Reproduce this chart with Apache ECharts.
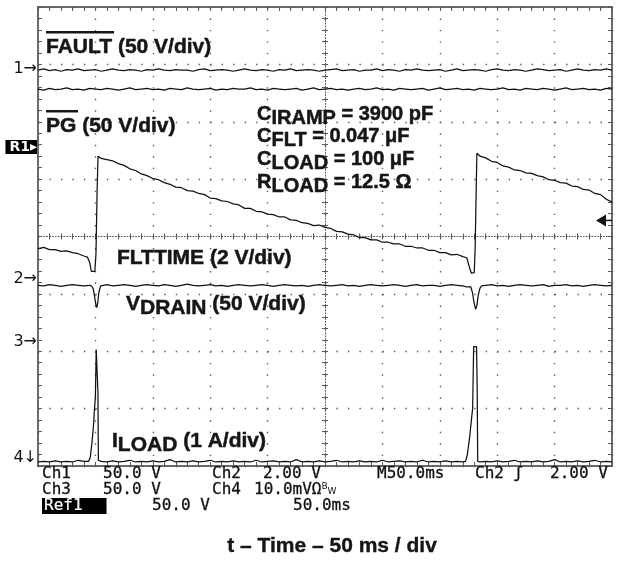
<!DOCTYPE html>
<html><head><meta charset="utf-8">
<script src="https://cdn.jsdelivr.net/npm/echarts@6/dist/echarts.min.js"></script>
<style>html,body{margin:0;padding:0;background:#fff}#c{width:619px;height:561px}</style>
</head><body><div id="c"></div>
<script>
// ---- axis ranges (time in ms, amplitude in screen divisions, 0 = bottom) ----
const timeRange = [0, 500];
const timePerDiv = 50;
const divRange = [0, 8];

// ---- shared time base for the flat traces (ms) ----
const timeFlat = [0,5,10,15,20,25,30,35,40,45,50,55,60,65,70,75,80,85,90,95,100,105,110,115,120,125,130,135,140,145,150,155,160,165,170,175,180,185,190,195,200,205,210,215,220,225,230,235,240,245,250,255,260,265,270,275,280,285,290,295,300,305,310,315,320,325,330,335,340,345,350,355,360,365,370,375,380,385,390,395,400,405,410,415,420,425,430,435,440,445,450,455,460,465,470,475,480,485,490,495,500];

// FAULT (Ch1)
const faultV = [6.90,6.92,6.89,6.91,6.88,6.91,6.90,6.92,6.89,6.90,
6.91,6.88,6.90,6.92,6.90,6.89,6.91,6.90,6.88,6.91,
6.90,6.92,6.90,6.89,6.91,6.90,6.90,6.88,6.91,6.92,
6.89,6.90,6.91,6.90,6.88,6.90,6.92,6.90,6.89,6.91,
6.90,6.88,6.91,6.90,6.92,6.89,6.90,6.91,6.90,6.88,
6.90,6.91,6.92,6.89,6.90,6.91,6.88,6.90,6.90,6.92,
6.89,6.91,6.90,6.88,6.91,6.90,6.92,6.90,6.89,6.90,
6.91,6.88,6.90,6.92,6.89,6.90,6.91,6.90,6.88,6.91,
6.92,6.90,6.89,6.91,6.90,6.88,6.90,6.92,6.91,6.89,
6.90,6.91,6.88,6.90,6.92,6.90,6.89,6.91,6.90,6.92,6.90];

// PG (Ref1)
const pgV = [6.57,6.55,6.58,6.56,6.57,6.59,6.56,6.57,6.55,6.58,
6.57,6.56,6.58,6.57,6.55,6.57,6.59,6.56,6.57,6.58,
6.56,6.57,6.55,6.58,6.57,6.56,6.59,6.57,6.56,6.57,
6.58,6.55,6.57,6.56,6.58,6.57,6.57,6.59,6.56,6.57,
6.55,6.58,6.57,6.56,6.57,6.58,6.55,6.57,6.59,6.56,
6.57,6.58,6.56,6.57,6.55,6.57,6.58,6.56,6.57,6.59,
6.56,6.57,6.55,6.58,6.57,6.56,6.57,6.58,6.55,6.57,
6.59,6.56,6.57,6.58,6.56,6.57,6.55,6.58,6.57,6.56,
6.57,6.59,6.56,6.57,6.55,6.58,6.57,6.56,6.58,6.57,
6.55,6.57,6.59,6.56,6.57,6.58,6.56,6.57,6.55,6.58,6.57];

// FLTTIME (Ch2)
const fltT = [0,5,10,15,20,25,30,35,40,43,45,46.5,49.5,50.5,51.5,52.3,
55,60,65,70,75,80,85,90,95,100,105,110,115,120,125,130,135,140,145,150,155,160,165,170,175,180,185,190,195,200,205,210,215,220,225,230,235,240,245,250,255,260,265,270,275,280,285,290,295,300,305,310,315,320,325,330,335,340,345,350,355,360,365,370,
373.5,376,377.5,380,380.8,381.6,382.3,
385,390,395,400,405,410,415,420,425,430,435,440,445,450,455,460,465,470,475,480,485,490,495,500];
const fltV = [3.79,3.81,3.77,3.77,3.74,3.75,3.72,3.70,3.66,3.64,3.55,3.39,3.39,3.70,4.80,5.40,
5.36,5.34,5.32,5.27,5.24,5.18,5.15,5.09,5.06,5.01,
4.99,4.94,4.91,4.86,4.85,4.80,4.79,4.75,4.73,4.67,
4.66,4.62,4.61,4.57,4.55,4.49,4.49,4.44,4.43,4.39,
4.38,4.34,4.34,4.29,4.28,4.24,4.23,4.19,4.20,4.16,
4.14,4.09,4.08,4.04,4.03,3.98,3.98,3.94,3.94,3.90,
3.90,3.87,3.87,3.83,3.83,3.80,3.80,3.76,3.76,3.72,
3.72,3.68,3.69,3.65,
3.63,3.45,3.36,3.37,3.80,4.70,5.45,
5.40,5.37,5.31,5.29,5.23,5.21,5.16,5.15,5.11,5.10,
5.06,5.04,4.99,4.98,4.94,4.93,4.88,4.87,4.82,4.81,
4.75,4.73,4.65,4.60];

// VDRAIN (Ch3)
const vdT = [0,5,10,15,20,25,30,35,40,45,
47,48.2,49.5,50.5,51.2,52,53,54.5,57,
60,65,70,75,80,85,90,95,100,105,110,115,120,125,130,135,140,145,150,155,160,165,170,175,180,185,190,195,200,205,210,215,220,225,230,235,240,245,250,255,260,265,270,275,280,285,290,295,300,305,310,315,320,325,330,335,340,345,350,355,360,365,370,
373.4,375,377,378.5,379.8,381.2,382.3,383.5,385,386.5,
390,395,400,405,410,415,420,425,430,435,440,445,450,455,460,465,470,475,480,485,490,495,500];
const vdV = [3.15,3.14,3.16,3.15,3.13,3.15,3.16,3.15,3.14,3.15,
3.13,3.08,2.93,2.80,2.76,2.84,3.02,3.14,3.15,
3.16,3.14,3.15,3.16,3.15,3.13,3.15,3.16,3.15,3.14,
3.16,3.15,3.13,3.15,3.17,3.15,3.14,3.15,3.16,3.14,
3.15,3.13,3.15,3.16,3.15,3.14,3.15,3.16,3.15,3.13,
3.15,3.16,3.15,3.14,3.15,3.13,3.15,3.16,3.15,3.14,
3.15,3.16,3.14,3.15,3.13,3.15,3.16,3.15,3.14,3.15,
3.16,3.15,3.13,3.15,3.16,3.14,3.15,3.15,3.13,3.15,
3.16,3.15,3.14,
3.12,3.15,3.12,3.02,2.85,2.73,2.80,2.98,3.10,3.14,
3.15,3.16,3.14,3.15,3.13,3.15,3.16,3.15,3.14,3.15,
3.16,3.13,3.15,3.15,3.16,3.14,3.15,3.13,3.15,3.16,
3.15,3.14,3.15];

// ILOAD (Ch4)
const ilT = [0,5,10,15,20,25,30,35,40,
44,45.5,47,48.5,49.2,50,50.7,51.6,52.2,52.6,53.5,55,
60,65,70,75,80,85,90,95,100,105,110,115,120,125,130,135,140,145,150,155,160,165,170,175,180,185,190,195,200,205,210,215,220,225,230,235,240,245,250,255,260,265,270,275,280,285,290,295,300,305,310,315,320,325,330,335,340,345,350,355,360,365,370,
372.5,374,376,377.5,378.6,379.5,382,382.6,383,385,
390,395,400,405,410,415,420,425,430,435,440,445,450,455,460,465,470,475,480,485,490,495,500];
const ilV = [0.07,0.08,0.07,0.09,0.07,0.08,0.07,0.10,0.08,
0.08,0.15,0.40,0.75,1.00,1.20,2.03,2.04,1.30,0.10,0.07,0.08,
0.07,0.09,0.07,0.08,0.10,0.07,0.08,0.07,0.09,0.07,
0.08,0.11,0.07,0.08,0.07,0.09,0.07,0.08,0.10,0.07,
0.08,0.07,0.09,0.07,0.08,0.07,0.10,0.07,0.08,0.09,
0.07,0.08,0.07,0.11,0.07,0.08,0.07,0.09,0.07,0.08,
0.10,0.07,0.08,0.07,0.09,0.07,0.08,0.07,0.10,0.07,
0.08,0.09,0.07,0.08,0.07,0.10,0.07,0.08,0.07,0.09,
0.07,0.08,0.07,
0.08,0.20,0.50,0.80,1.00,2.08,2.08,1.30,0.08,0.07,
0.08,0.07,0.09,0.07,0.08,0.10,0.07,0.08,0.07,0.09,
0.07,0.08,0.11,0.07,0.08,0.07,0.09,0.07,0.08,0.10,
0.07,0.08,0.07];

// channel ground-reference markers (level in divisions)
const markerNames = ['1', 'R1', '2', '3', '4'];
const markerLevels = [6.92, 5.56, 3.26, 2.16, 0.14];
const triggerLevel = 4.28;

// texts
const instrRows = [
  ['Ch1','50.0 V','Ch2','2.00 V','M50.0ms','Ch2 ʃ','2.00 V'],
  ['Ch3','50.0 V','Ch4','10.0mVΩ'],
  ['Ref1','50.0 V','50.0ms']
];
const xTitle = 't – Time – 50 ms / div';

const zip = (a, b) => a.map((t, i) => [t, b[i]]);
const GRID = '#5a5a5a';
const TRACE = '#111';
const INK = '#161616';
const FONT = '"Liberation Sans", Arial, sans-serif';

function edgeX(pos, split) {
  return {type:'value', min:timeRange[0], max:timeRange[1], interval:timePerDiv, position:pos,
    axisLine:{show:false, onZero:false}, axisLabel:{show:false},
    axisTick:{show:true, inside:true, length:4, lineStyle:{color:GRID, width:1}},
    minorTick:{show:true, splitNumber:5, length:4, lineStyle:{color:GRID, width:1}},
    splitLine:{show:split, lineStyle:{color:GRID, width:1.4, type:[1.4, 10.08]}}};
}
function edgeY(pos, split) {
  return {type:'value', min:divRange[0], max:divRange[1], interval:1, position:pos,
    axisLine:{show:false, onZero:false}, axisLabel:{show:false},
    axisTick:{show:true, inside:true, length:4, lineStyle:{color:GRID, width:1}},
    minorTick:{show:true, splitNumber:5, length:4, lineStyle:{color:GRID, width:1}},
    splitLine:{show:split, lineStyle:{color:GRID, width:1.4, type:[1.4, 10.08]}}};
}
const half = (timeRange[1]-timeRange[0])/2, halfDiv = (divRange[1]-divRange[0])/2;
function centerX(inside) {
  return {type:'value', min:-half, max:half, interval:timePerDiv, position:'bottom',
    axisLine:{show:true, onZero:true, onZeroAxisIndex:2, lineStyle:{color:GRID, width:1, opacity: inside?0:1, type:[1,1.87]}},
    axisLabel:{show:false},
    axisTick:{show:true, inside:inside, length:3, lineStyle:{color:GRID, width:1}},
    minorTick:{show:true, splitNumber:5, length:3, lineStyle:{color:GRID, width:1}},
    splitLine:{show:false}};
}
function centerY(inside) {
  return {type:'value', min:-halfDiv, max:halfDiv, interval:1, position:'left',
    axisLine:{show:true, onZero:true, onZeroAxisIndex:2, lineStyle:{color:GRID, width:1, opacity: inside?0:1, type:[1,1.87]}},
    axisLabel:{show:false},
    axisTick:{show:true, inside:inside, length:3, lineStyle:{color:GRID, width:1}},
    minorTick:{show:true, splitNumber:5, length:3, lineStyle:{color:GRID, width:1}},
    splitLine:{show:false}};
}
function trace(name, t, v) {
  return {name, type:'line', xAxisIndex:0, yAxisIndex:0, data:zip(t, v), showSymbol:false, symbol:'none',
    lineStyle:{color:TRACE, width:1.25}, silent:true, z:5, animation:false};
}

function mkRich(size) {
  const f = 'bold ' + size + 'px ' + FONT;
  return {
    font: f,
    rich: {
      m:{font:f, fill:INK, stroke:INK, lineWidth:0.5, verticalAlign:'bottom', padding:[0,0,4,0]},
      s:{font:f, fill:INK, stroke:INK, lineWidth:0.5, verticalAlign:'bottom'}
    }
  };
}
function label(x, y, text, size) {
  const r = mkRich(size);
  return {type:'text', x, y, z:100, style:{text, rich:r.rich, font:r.font, fill:INK, stroke:INK, lineWidth:0.5, verticalAlign:'middle'}};
}

const instrFont = '16px "DejaVu Sans Mono", monospace';
function itext(x, y, text, extra) {
  return {type:'text', x, y, z:100, style:Object.assign({text, font:instrFont, fill:'#111', stroke:'#111', lineWidth:0.3, verticalAlign:'middle'}, extra||{})};
}

const graphics = [
  label(46, 47, 'FAULT (50 V/div)', 21),
  {type:'rect', z:100, shape:{x:46, y:31, width:68, height:2.5}, style:{fill:INK}},
  label(46, 126, 'PG (50 V/div)', 21),
  {type:'rect', z:100, shape:{x:46, y:110, width:32, height:2.5}, style:{fill:INK}},
  label(257, 116, '{m|C}{s|IRAMP}{m| = 3900 pF}', 20),
  label(257, 138, '{m|C}{s|FLT}{m| = 0.047 μF}', 20),
  label(257, 161, '{m|C}{s|LOAD}{m| = 100 μF}', 20),
  label(257, 184, '{m|R}{s|LOAD}{m| = 12.5 Ω}', 20),
  label(117, 258, 'FLTTIME (2 V/div)', 21),
  label(126, 306, '{m|V}{s|DRAIN}{m| (50 V/div)}', 21),
  label(112, 443, '{m|I}{s|LOAD}{m| (1 A/div)}', 21),
  // instrument readout
  itext(42, 474, instrRows[0][0]), itext(103, 474, instrRows[0][1]), itext(212, 474, instrRows[0][2]),
  itext(263, 474, instrRows[0][3]), itext(377, 474, instrRows[0][4]), itext(475, 474, instrRows[0][5]),
  itext(550, 474, instrRows[0][6]),
  itext(42, 490, instrRows[1][0]), itext(103, 490, instrRows[1][1]), itext(212, 490, instrRows[1][2]),
  {type:'text', x:254, y:490, z:100, style:{text:'{n|' + instrRows[1][3] + '}{b|B}{w|W}', font:instrFont, fill:'#111', verticalAlign:'middle',
    rich:{n:{font:instrFont, fill:'#111', stroke:'#111', lineWidth:0.3}, b:{font:'9px "DejaVu Sans"', fill:'#111', padding:[0,0,6,0]}, w:{font:'9px "DejaVu Sans"', fill:'#111', padding:[4,0,0,0]}}}},
  itext(42, 506, instrRows[2][0], {backgroundColor:'#000', fill:'#fff', stroke:'#fff', lineWidth:0.2, padding:[0,24,0,2]}),
  itext(152, 506, instrRows[2][1]), itext(293, 506, instrRows[2][2]),
  {type:'text', x:332, y:546, z:100, style:{text:xTitle, font:'bold 21px ' + FONT, fill:INK, stroke:INK, lineWidth:0.4, align:'center', verticalAlign:'middle'}}
];

const chart = echarts.init(document.getElementById('c'), null, {renderer:'canvas'});
chart.setOption({
  animation:false,
  backgroundColor:'#fff',
  grid:{left:38, top:7, width:574, height:459, show:true, borderColor:'#6a6a6a', borderWidth:2, backgroundColor:'#fff'},
  xAxis:[edgeX('bottom', true), edgeX('top', false), centerX(false), centerX(true)],
  yAxis:[edgeY('left', true), edgeY('right', false), centerY(false), centerY(true)],
  series:[trace('FAULT', timeFlat, faultV), trace('PG', timeFlat, pgV), trace('FLTTIME', fltT, fltV),
          trace('VDRAIN', vdT, vdV), trace('ILOAD', ilT, ilV)],
  graphic:graphics
});

// channel markers positioned through the axes
const left = chart.convertToPixel({xAxisIndex:0, yAxisIndex:0}, [timeRange[0], 0])[0];
const right = chart.convertToPixel({xAxisIndex:0, yAxisIndex:0}, [timeRange[1], 0])[0];
const markerG = markerNames.map((n, i) => {
  const y = chart.convertToPixel({xAxisIndex:0, yAxisIndex:0}, [0, markerLevels[i]])[1];
  if (n === 'R1') {
    return {type:'text', x:left - 1, y, z:100, style:{text:'R1▸', font:'bold 14px "DejaVu Sans", sans-serif', fill:'#fff', backgroundColor:'#000', padding:[0,0,0,4], align:'right', verticalAlign:'middle'}};
  }
  const arrow = n === '4' ? '↓' : '→';
  return {type:'text', x:left - 1, y, z:100, style:{text:n + arrow, font:'16px "DejaVu Sans", sans-serif', fill:'#111', align:'right', verticalAlign:'middle'}};
});
const ty = chart.convertToPixel({xAxisIndex:0, yAxisIndex:0}, [0, triggerLevel])[1];
markerG.push({type:'polygon', z:100, shape:{points:[[right-16, ty], [right-6, ty-6], [right-6, ty+6]]}, style:{fill:'#111'}});
markerG.push({type:'line', z:100, shape:{x1:right-7, y1:ty, x2:right, y2:ty}, style:{stroke:'#111', lineWidth:1.5}});
chart.setOption({graphic: graphics.concat(markerG)});
</script></body></html>
